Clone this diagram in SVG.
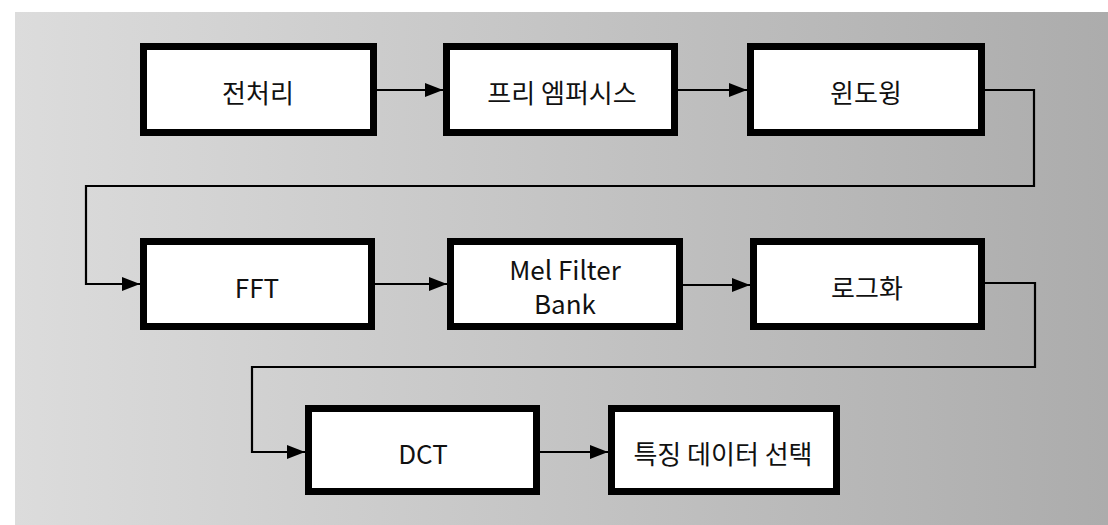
<svg xmlns="http://www.w3.org/2000/svg" width="1108" height="525" viewBox="0 0 1108 525">
  <defs>
    <linearGradient id="bg" x1="0" y1="0" x2="1" y2="0">
      <stop offset="0" stop-color="#dcdcdc"/>
      <stop offset="0.5" stop-color="#c4c4c4"/>
      <stop offset="1" stop-color="#acacac"/>
    </linearGradient>
    <marker id="arr" viewBox="0 0 18 14" refX="18" refY="7" markerWidth="18" markerHeight="14" markerUnits="userSpaceOnUse" orient="auto">
      <path d="M0,0 L18,7 L0,14 z" fill="#000"/>
    </marker>
    <style>
      .box { fill: #fff; stroke: #000; stroke-width: 7; }
      .lbl { font-family: "Noto Sans CJK KR", "Noto Sans", sans-serif; font-size: 26px; fill: #111; text-anchor: middle; dominant-baseline: central; }
      .con { fill: none; stroke: #000; stroke-width: 2.2; }
    </style>
  </defs>
  <rect width="1108" height="525" fill="#fff"/>
  <rect x="15" y="12" width="1093" height="513" fill="url(#bg)"/>

  <g id="connectors">
    <path class="con" d="M377,90 H443" marker-end="url(#arr)"/>
    <path class="con" d="M678,90 H747" marker-end="url(#arr)"/>
    <path class="con" d="M985,90 H1034 V186 H86 V284 H140" marker-end="url(#arr)"/>
    <path class="con" d="M375,284 H447" marker-end="url(#arr)"/>
    <path class="con" d="M683,285 H750" marker-end="url(#arr)"/>
    <path class="con" d="M985,283 H1035 V367 H252 V452 H305" marker-end="url(#arr)"/>
    <path class="con" d="M540,452 H608" marker-end="url(#arr)"/>
  </g>

  <g id="n1"><rect class="box" x="143.5" y="46.5" width="230" height="86"/><text class="lbl" x="258" y="91">전처리</text></g>
  <g id="n2"><rect class="box" x="446.5" y="46.5" width="228" height="86"/><text class="lbl" x="562" y="91">프리 엠퍼시스</text></g>
  <g id="n3"><rect class="box" x="750.5" y="46.5" width="231" height="86"/><text class="lbl" x="866" y="91">윈도윙</text></g>
  <g id="n4"><rect class="box" x="143.5" y="241.5" width="228" height="85"/><text class="lbl" x="257" y="286">FFT</text></g>
  <g id="n5"><rect class="box" x="450.5" y="241.5" width="229" height="85"/><text class="lbl" x="565" y="268">Mel Filter</text><text class="lbl" x="565" y="302">Bank</text></g>
  <g id="n6"><rect class="box" x="753.5" y="241.5" width="228" height="85"/><text class="lbl" x="867" y="286">로그화</text></g>
  <g id="n7"><rect class="box" x="308.5" y="408.5" width="228" height="83"/><text class="lbl" x="423" y="452">DCT</text></g>
  <g id="n8"><rect class="box" x="611.5" y="408.5" width="225" height="83"/><text class="lbl" x="723" y="452">특징 데이터 선택</text></g>
</svg>
